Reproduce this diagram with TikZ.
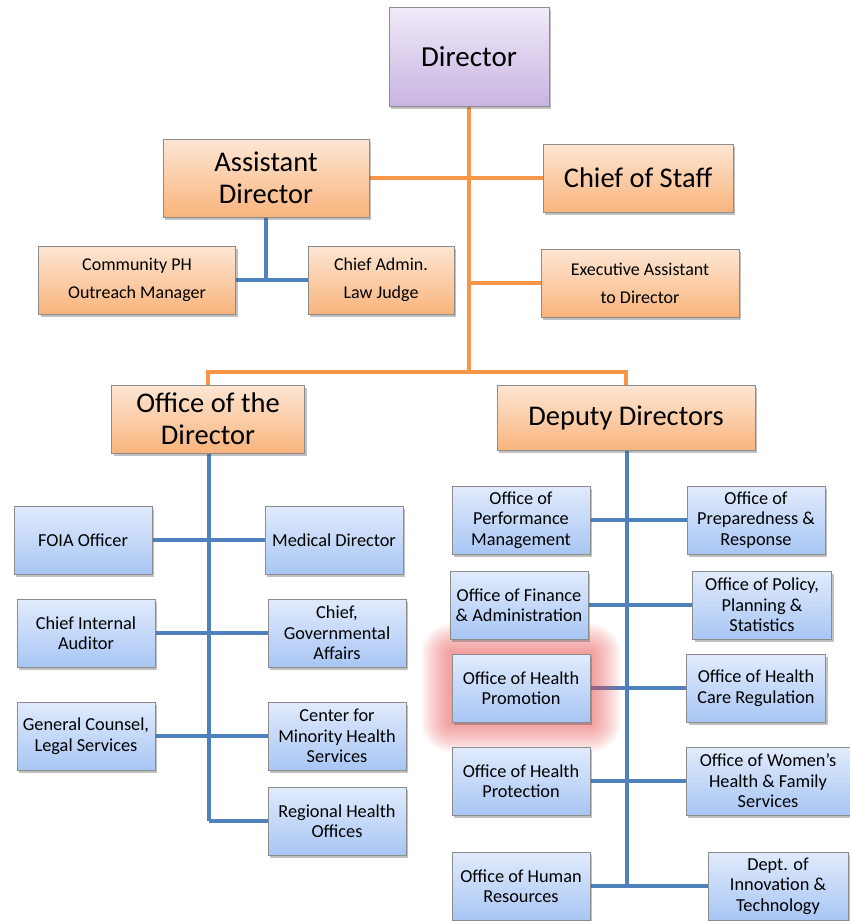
\documentclass[tikz,border=0pt]{standalone}
\usepackage{fontspec}
\setmainfont{Carlito}
\usepackage{xcolor}
\usepackage{tikz}
\usetikzlibrary{shadows,backgrounds}

\definecolor{orgline}{RGB}{247,150,70}
\definecolor{bluline}{RGB}{79,129,189}
\definecolor{orgtop}{RGB}{253,230,212}
\definecolor{orgbot}{RGB}{249,180,124}
\definecolor{blutop}{RGB}{225,235,252}
\definecolor{blubot}{RGB}{168,198,244}
\definecolor{purtop}{RGB}{240,234,248}
\definecolor{purbot}{RGB}{200,180,226}
\definecolor{glowred}{RGB}{232,80,80}

\tikzset{
	box/.style={draw=black!45, line width=0.6pt, align=center, inner sep=1pt,
		drop shadow={shadow xshift=2pt, shadow yshift=-2.5pt, opacity=0.35, fill=black!70}},
	obox/.style={box, top color=orgtop, bottom color=orgbot, minimum height=68pt},
	bbox/.style={box, top color=blutop, bottom color=blubot, minimum width=138pt, minimum height=68pt,
		font=\fontsize{18.3}{20.5}\selectfont},
	bigtext/.style={font=\fontsize{28.5}{32}\selectfont},
	smalltext/.style={font=\fontsize{18}{28}\selectfont},
	oline/.style={draw=orgline, line width=4pt},
	bline/.style={draw=bluline, line width=4pt},
}

\begin{document}
\begin{tikzpicture}[x=1pt,y=-1pt]
	\useasboundingbox (0,0) rectangle (850,921);
	% top part
	\node[box, top color=purtop, bottom color=purbot, minimum width=160pt, minimum height=99pt, font=\fontsize{29}{32}\selectfont] at (469,57) (dir) {Director};
	\node[obox, bigtext, minimum width=206pt, minimum height=78pt] at (266,178) (ad) {Assistant\\Director};
	\node[obox, bigtext, minimum width=190pt] at (638,178) (cos) {Chief of Staff};
	\node[obox, smalltext, minimum width=197pt] at (137,280) (cph) {Community PH\\Outreach Manager};
	\node[obox, smalltext, minimum width=146pt] at (381,280) (caj) {Chief Admin.\\Law Judge};
	\node[obox, smalltext, minimum width=198pt] at (640,283) (ea) {Executive Assistant\\to Director};
	\node[obox, bigtext, minimum width=193pt] at (208,419) (ood) {Office of the\\Director};
	\node[obox, bigtext, minimum width=258pt, minimum height=65pt] at (626,418) (dd) {Deputy Directors};
	\coordinate (split) at (469,372);
	% left branch
	\node[bbox] at (83,540) (foia) {FOIA Officer};
	\node[bbox] at (334,540) (med) {Medical Director};
	\node[bbox] at (86,633) (cia) {Chief Internal\\Auditor};
	\node[bbox] at (337,633) (cga) {Chief,\\Governmental\\Affairs};
	\node[bbox] at (86,736) (gc) {General Counsel,\\Legal Services};
	\node[bbox] at (337,736) (cmh) {Center for\\Minority Health\\Services};
	\node[bbox] at (337,821) (rho) {Regional Health\\Offices};
	% right branch
	\node[bbox] at (521,520) (opm) {Office of\\Performance\\Management};
	\node[bbox] at (756,520) (opr) {Office of\\Preparedness \&\\Response};
	\node[bbox] at (519,605) (ofa) {Office of Finance\\\& Administration};
	\node[bbox, minimum width=139pt] at (762,605) (opp) {Office of Policy,\\Planning \&\\Statistics};
	\node[bbox] at (521,688) (ohp) {Office of Health\\Promotion};
	\node[bbox, minimum width=139pt] at (756,688) (ohc) {Office of Health\\Care Regulation};
	\node[bbox] at (521,781) (ohpr) {Office of Health\\Protection};
	\node[bbox, minimum width=164pt] at (768,781) (owh) {Office of Women's\\Health \& Family\\Services};
	\node[bbox] at (521,886) (ohr) {Office of Human\\Resources};
	\node[bbox, minimum width=140pt] at (778,886) (dit) {Dept. of\\Innovation \&\\Technology};

	\begin{scope}[on background layer]
		\draw[oline] (dir.south) -- (split);
		\draw[oline] (ood.north) |- (split) -| (dd.north);
		\draw[oline] (ad.east) -- (cos.west);
		\draw[oline] (ea.west) -- (dir.south |- ea.west);
		\draw[bline] (ad.south) -- (ad.south |- cph.east);
		\draw[bline] (cph.east) -- (caj.west);
		% office of the director
		\draw[bline] ([xshift=1pt]ood.south) -- ([xshift=1pt]ood.south |- rho.west);
		\draw[bline] (foia.east) -- (med.west);
		\draw[bline] (cia.east) -- (cga.west);
		\draw[bline] (gc.east) -- (cmh.west);
		\draw[bline] (rho.west) -- ([xshift=1pt]ood.south |- rho.west);
		% deputy directors
		\draw[bline] ([xshift=1pt]dd.south) -- ([xshift=1pt]dd.south |- ohr.east);
		\draw[bline] (opm.east) -- (opr.west);
		\draw[bline] (ofa.east) -- (opp.west);
		\draw[bline] (ohp.east) -- (ohc.west);
		\draw[bline] (ohpr.east) -- (owh.west);
		\draw[bline] (ohr.east) -- (dit.west);
		\foreach \g in {2,4,...,30}
			\fill[glowred, opacity=0.05, rounded corners=\g pt] ([shift={(-\g,-\g)}]ohp.north west) rectangle ([shift={(\g,\g)}]ohp.south east);
	\end{scope}
\end{tikzpicture}
\end{document}
